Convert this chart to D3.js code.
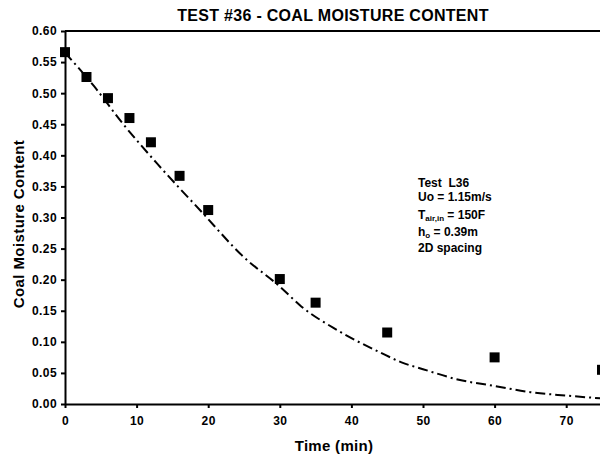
<!DOCTYPE html>
<html lang="en">
<head>
	<meta charset="utf-8">
	<title>Test #36 - Coal Moisture Content</title>
	<script src="https://d3js.org/d3.v7.min.js"></script>
	<style type="text/css">
		body { margin: 0; background: #fff; }
		svg text { font-family: Arial, "Liberation Sans", sans-serif; font-weight: bold; fill: #000; }
		.axis path, .axis line { stroke: #000; stroke-width: 2; fill: none; }
		.axis text { font-size: 12px; letter-spacing: 0.4px; }
	</style>
</head>
<body>
<script type="text/javascript">

	// Measured data
	var times    = [0, 3, 6, 9, 12, 16, 20, 30, 35, 45, 60, 75];
	var moisture = [0.566, 0.526, 0.492, 0.460, 0.421, 0.367, 0.312, 0.201, 0.163, 0.115, 0.075, 0.055];

	// Model curve
	var curveTimes = [0, 4, 8, 13, 19, 25, 30, 33, 38, 40, 44, 47, 50, 55, 60, 65, 70, 75];
	var curveVals  = [0.565, 0.512, 0.452, 0.385, 0.310, 0.236, 0.189, 0.157, 0.119, 0.106, 0.083, 0.067, 0.056, 0.039, 0.029, 0.019, 0.0135, 0.009];

	var xTicks = [0, 10, 20, 30, 40, 50, 60, 70];
	var yTicks = [0, 0.05, 0.10, 0.15, 0.20, 0.25, 0.30, 0.35, 0.40, 0.45, 0.50, 0.55, 0.60];

	var width = 600, height = 458;
	var margin = {top: 31, right: -2, bottom: 54, left: 65};

	var svg = d3.select("body")
				.append("svg")
				.attr("width", width)
				.attr("height", height);

	var xScale = d3.scaleLinear()
					.domain([0, 75])
					.range([margin.left, width - margin.right]);

	var yScale = d3.scaleLinear()
					.domain([0, 0.6])
					.range([height - margin.bottom, margin.top]);

	// Top frame line
	svg.append("line")
		.attr("x1", xScale(0)).attr("x2", width)
		.attr("y1", yScale(0.6)).attr("y2", yScale(0.6))
		.attr("stroke", "#000").attr("stroke-width", 2);

	// Axes
	var xAxis = d3.axisBottom(xScale)
					.tickValues(xTicks)
					.tickSize(4)
					.tickSizeOuter(0)
					.tickPadding(8);

	var yAxis = d3.axisLeft(yScale)
					.tickValues(yTicks)
					.tickSize(4)
					.tickSizeOuter(0)
					.tickPadding(4)
					.tickFormat(d3.format(".2f"));

	svg.append("g")
		.attr("class", "x axis")
		.attr("transform", "translate(0," + yScale(0) + ")")
		.call(xAxis);

	svg.append("g")
		.attr("class", "y axis")
		.attr("transform", "translate(" + xScale(0) + ",0)")
		.call(yAxis);

	// Dashed model curve
	var line = d3.line()
				.x(function(d, i) { return xScale(curveTimes[i]); })
				.y(function(d) { return yScale(d); })
				.curve(d3.curveMonotoneX);

	svg.append("path")
		.datum(curveVals)
		.attr("d", line)
		.attr("fill", "none")
		.attr("stroke", "#000")
		.attr("stroke-width", 2)
		.attr("stroke-dasharray", "10,4,2,4");

	// Square markers
	var ms = 10;
	svg.selectAll("rect.pt")
		.data(moisture)
		.enter()
		.append("rect")
		.attr("class", "pt")
		.attr("x", function(d, i) { return xScale(times[i]) - ms / 2; })
		.attr("y", function(d) { return yScale(d) - ms / 2; })
		.attr("width", ms)
		.attr("height", ms)
		.attr("fill", "#000");

	// Titles
	svg.append("text")
		.attr("x", 333).attr("y", 21)
		.attr("text-anchor", "middle")
		.style("font-size", "16px")
		.style("letter-spacing", "0.3px")
		.text("TEST #36 - COAL MOISTURE CONTENT");

	svg.append("text")
		.attr("x", 334).attr("y", 451)
		.attr("text-anchor", "middle")
		.style("font-size", "15px")
		.style("letter-spacing", "0.3px")
		.text("Time (min)");

	svg.append("text")
		.attr("transform", "translate(24,224) rotate(-90)")
		.attr("text-anchor", "middle")
		.style("font-size", "15px")
		.style("letter-spacing", "0.4px")
		.text("Coal Moisture Content");

	// Annotation block
	var note = svg.append("g").attr("transform", "translate(418,0)").style("font-size", "12px");
	note.append("text").attr("y", 187).attr("xml:space", "preserve").text("Test  L36");
	note.append("text").attr("y", 201).text("Uo = 1.15m/s");
	var t3 = note.append("text").attr("y", 219);
	t3.append("tspan").text("T");
	t3.append("tspan").attr("dy", 2).style("font-size", "8px").text("air,in");
	t3.append("tspan").attr("dy", -2).text(" = 150F");
	var t4 = note.append("text").attr("y", 236);
	t4.append("tspan").text("h");
	t4.append("tspan").attr("dy", 2).style("font-size", "8px").text("o");
	t4.append("tspan").attr("dy", -2).text(" = 0.39m");
	note.append("text").attr("y", 252).text("2D spacing");

</script>
</body>
</html>
